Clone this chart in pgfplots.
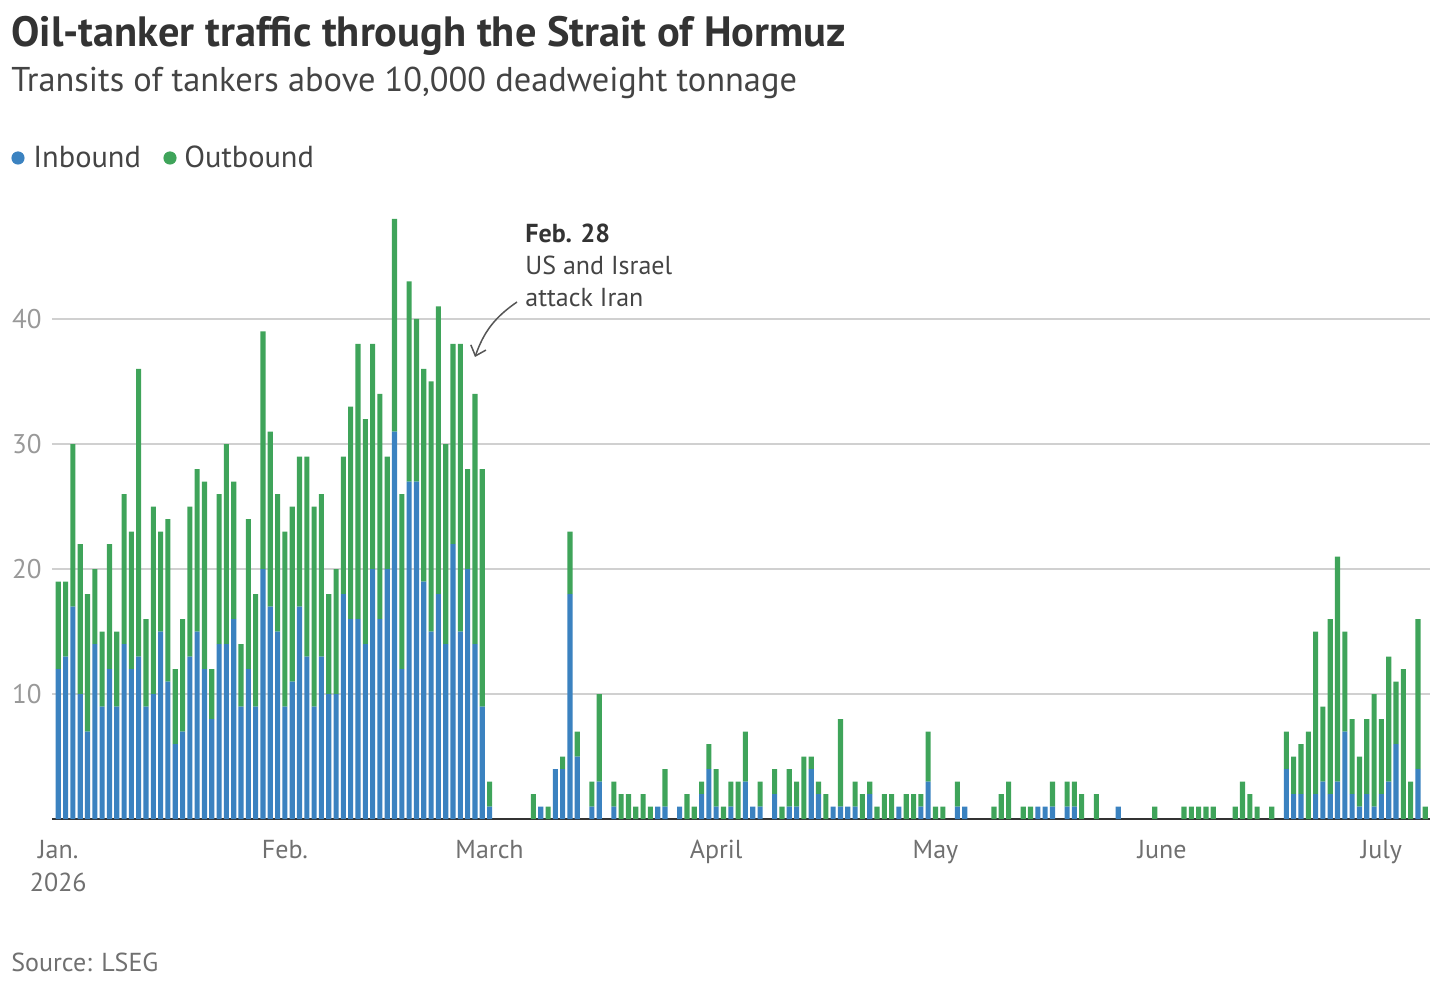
\documentclass[border=0pt]{standalone}
\usepackage{fontspec}
\setmainfont{PT Sans}
\usepackage{pgfplots}
\pgfplotsset{compat=1.18}
\usepackage{pgfplotstable}
\usetikzlibrary{arrows.meta}
\definecolor{inC}{HTML}{3B82C0}
\definecolor{outC}{HTML}{3FA45A}
\definecolor{titleC}{HTML}{333333}
\definecolor{subC}{HTML}{444444}
\definecolor{tickC}{HTML}{707070}
\definecolor{ytickC}{HTML}{999999}
\definecolor{gridC}{HTML}{D0D0D0}
\definecolor{baseC}{HTML}{333333}
\definecolor{arrC}{HTML}{555555}

\pgfplotstableread{
d in out
0 12 7
1 13 6
2 17 13
3 10 12
4 7 11
5 14 6
6 9 6
7 12 10
8 9 6
9 14 12
10 12 11
11 13 23
12 9 7
13 10 15
14 15 8
15 11 13
16 6 6
17 7 9
18 13 12
19 15 13
20 12 15
21 8 4
22 14 12
23 14 16
24 16 11
25 9 5
26 12 12
27 9 9
28 20 19
29 17 14
30 15 11
31 9 14
32 11 14
33 17 12
34 13 16
35 9 16
36 13 13
37 10 8
38 10 10
39 18 11
40 16 17
41 16 22
42 14 18
43 20 18
44 16 18
45 20 9
46 31 17
47 12 14
48 27 16
49 27 13
50 19 17
51 15 20
52 18 23
53 14 16
54 22 16
55 15 23
56 20 8
57 14 20
58 9 19
59 1 2
65 0 2
66 1 0
67 0 1
68 4 0
69 4 1
70 18 5
71 5 2
73 1 2
74 3 7
76 1 2
77 0 2
78 0 2
79 0 1
80 0 2
81 0 1
82 1 0
83 1 3
85 1 0
86 0 2
87 0 1
88 2 1
89 4 2
90 1 3
91 0 1
92 1 2
93 0 3
94 3 4
95 1 0
96 1 2
98 2 2
99 0 1
100 1 3
101 1 2
102 0 5
103 4 1
104 2 1
105 0 2
106 1 0
107 1 7
108 1 0
109 1 2
110 0 2
111 2 1
112 0 1
113 0 2
114 0 2
115 1 0
116 0 2
117 0 2
118 1 1
119 3 4
120 0 1
121 0 1
123 1 2
124 1 0
128 0 1
129 0 2
130 0 3
132 0 1
133 0 1
134 1 0
135 1 0
136 1 2
138 1 2
139 1 2
140 0 2
142 0 2
145 1 0
150 0 1
154 0 1
155 0 1
156 0 1
157 0 1
158 0 1
161 0 1
162 0 3
163 0 2
164 0 1
166 0 1
168 4 3
169 2 3
170 2 4
171 0 7
172 2 13
173 3 6
174 2 14
175 3 18
176 7 8
177 2 6
178 1 4
179 2 6
180 1 9
181 2 6
182 3 10
183 6 5
184 0 12
185 0 3
186 4 12
187 0 1
}\hormuz

\begin{document}
\begin{tikzpicture}
\useasboundingbox (0,0) rectangle (718.5pt,-492pt);
% title block
\node[anchor=base west, inner sep=0pt, text=titleC, font=\fontsize{21.2}{24}\selectfont\bfseries] at (5.5pt,-23.5pt) {Oil-tanker traffic through the Strait of Hormuz};
\node[anchor=base west, inner sep=0pt, text=subC, font=\fontsize{17.2}{20}\selectfont] at (5.5pt,-46pt) {Transits of tankers above 10,000 deadweight tonnage};
% legend
\fill[inC] (9pt,-79pt) circle (3.3pt);
\node[anchor=base west, inner sep=0pt, text=subC, font=\fontsize{15.2}{18}\selectfont] at (16.5pt,-84pt) {Inbound};
\fill[outC] (85pt,-79pt) circle (3.3pt);
\node[anchor=base west, inner sep=0pt, text=subC, font=\fontsize{15.2}{18}\selectfont] at (92pt,-84pt) {Outbound};

\begin{axis}[
  at={(26pt,-409.5pt)}, anchor=south west,
  x=3.655pt, y=6.25pt,
  xmin=-0.86, xmax=187.65, ymin=0, ymax=48.2,
  enlargelimits=false, clip=false,
  ybar stacked, bar width=2.55pt,
  axis line style={draw=none},
  major tick length=0pt,
  ytick={10,20,30,40},
  ymajorgrids, grid style={color=gridC, line width=0.75pt},
  xtick={0,31,59,90,120,151,181},
  xticklabels={{Jan.\\2026},Feb.,March,April,May,June,July},
  xticklabel style={anchor=north, inner sep=0pt, yshift=-10.5pt, align=center, text=tickC, font=\fontsize{13}{16.5}\selectfont},
  yticklabel style={anchor=east, inner sep=0pt, xshift=-5pt, text=ytickC, font=\fontsize{13.5}{16}\selectfont},
  /pgf/number format/assume math mode=true,
]
\addplot[fill=inC, draw=none] table[x=d, y=in] {\hormuz};
\addplot[fill=outC, draw=none] table[x=d, y=out] {\hormuz};
\draw[baseC, line width=1pt] (axis cs:-0.86,0) -- (axis cs:187.65,0);
\end{axis}

% annotation
\node[anchor=base west, inner sep=0pt, text=titleC, font=\fontsize{13}{16}\selectfont\bfseries] at (262.5pt,-121.5pt) {Feb. 28};
\node[anchor=base west, inner sep=0pt, text=subC, font=\fontsize{13}{16}\selectfont] at (262.5pt,-137.5pt) {US and Israel};
\node[anchor=base west, inner sep=0pt, text=subC, font=\fontsize{13}{16}\selectfont] at (262.5pt,-153.5pt) {attack Iran};
\draw[arrC, line width=0.75pt, -{Straight Barb[length=4.5pt,width=8pt]}] (258.5pt,-151pt) to[bend right=18] (237.5pt,-178.5pt);

% source
\node[anchor=base west, inner sep=0pt, text=tickC, font=\fontsize{13}{16}\selectfont] at (5.5pt,-485.5pt) {Source: LSEG};
\end{tikzpicture}
\end{document}
